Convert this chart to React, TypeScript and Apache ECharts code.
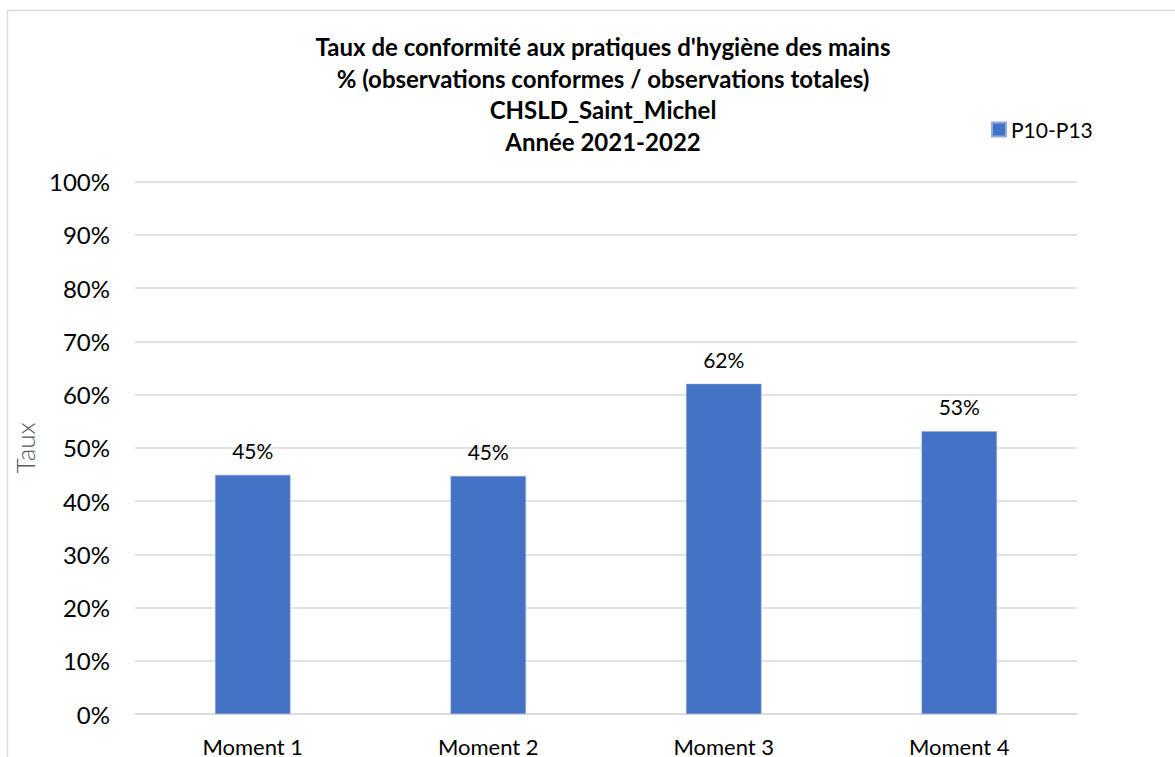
import React, { useEffect, useRef } from "react";
import * as echarts from "echarts";

const categories = ["Moment 1", "Moment 2", "Moment 3", "Moment 4"];
const seriesName = "P10-P13";
const values = [44.9, 44.7, 62.0, 53.1];
const labels = ["45%", "45%", "62%", "53%"];
const titleLines = [
  "Taux de conformité aux pratiques d'hygiène des mains",
  "% (observations conformes / observations totales)",
  "CHSLD_Saint_Michel",
  "Année 2021-2022",
];

const FONT = "Lato, 'Open Sans', sans-serif";

export default function App() {
  const ref = useRef<HTMLDivElement>(null);
  useEffect(() => {
    if (!ref.current) return;
    const chart = echarts.init(ref.current, null, { renderer: "svg" });
    chart.setOption({
      animation: false,
      backgroundColor: "#ffffff",
      graphic: [
        {
          type: "rect",
          shape: { x: 7.5, y: 10.5, width: 1200, height: 800 },
          style: { fill: "none", stroke: "#d9d9d9", lineWidth: 1.5 },
          silent: true,
          z: -1,
        },
      ],
      title: {
        text: titleLines.join("\n"),
        left: 598,
        textAlign: "center",
        top: 26,
        textStyle: {
          fontFamily: FONT,
          fontWeight: "bold",
          fontSize: 24,
          lineHeight: 31.5,
          color: "#000000",
        },
      },
      legend: {
        data: [seriesName],
        left: 986,
        top: 114,
        itemWidth: 14,
        itemHeight: 14,
        itemGap: 6,
        icon: "rect",
        textStyle: { fontFamily: FONT, fontSize: 21, color: "#000000" },
      },
      grid: { left: 135, right: 98, top: 181.5, bottom: 40, containLabel: false },
      xAxis: {
        type: "category",
        data: categories,
        axisLine: { show: true, lineStyle: { color: "#d9d9d9", width: 1.5 } },
        axisTick: { show: false },
        axisLabel: {
          fontFamily: FONT,
          fontSize: 22,
          color: "#000000",
          margin: 21,
        },
      },
      yAxis: {
        type: "value",
        min: 0,
        max: 100,
        interval: 10,
        name: "Taux",
        nameLocation: "middle",
        nameGap: 93,
        nameTextStyle: { fontFamily: FONT, fontSize: 26, color: "#595959", fontWeight: 300 },
        axisLine: { show: false },
        axisTick: { show: false },
        axisLabel: {
          fontFamily: FONT,
          fontSize: 24,
          color: "#000000",
          margin: 25,
          formatter: (v: number) => v + "%",
        },
        splitLine: { lineStyle: { color: "#d9d9d9", width: 1.5 } },
      },
      series: [
        {
          name: seriesName,
          type: "bar",
          data: values,
          barWidth: "32%",
          itemStyle: { color: "#4472C4", borderColor: "#8faadc", borderWidth: 0.5 },
          label: {
            show: true,
            position: "top",
            distance: 14,
            fontFamily: FONT,
            fontSize: 21,
            color: "#000000",
            formatter: (p: any) => labels[p.dataIndex],
          },
        },
      ],
    });
    return () => chart.dispose();
  }, []);
  return (
    <div
      ref={ref}
      style={{ position: "fixed", left: 0, top: 0, width: 1175, height: 757 }}
    />
  );
}
